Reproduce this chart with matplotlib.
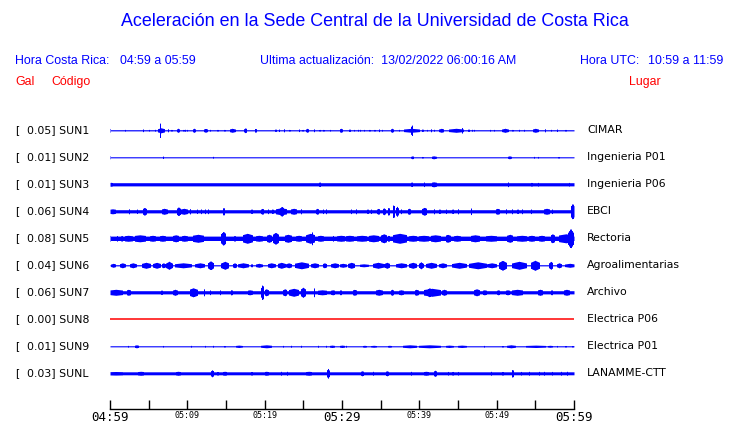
#!/usr/bin/env python3
"""Acceleration traces for the UCR Sede Central network, one hour window."""

import numpy as np
import matplotlib
matplotlib.use("Agg")
import matplotlib.pyplot as plt

W, H = 740, 423
BLUE = "#0000ff"
RED = "#ff0000"

codes = ["SUN1", "SUN2", "SUN3", "SUN4", "SUN5", "SUN6", "SUN7", "SUN8", "SUN9", "SUNL"]
peaks = ["0.05", "0.01", "0.01", "0.06", "0.08", "0.04", "0.06", "0.00", "0.01", "0.03"]
places = ["CIMAR", "Ingenieria P01", "Ingenieria P06", "EBCI", "Rectoria",
          "Agroalimentarias", "Archivo", "Electrica P06", "Electrica P01", "LANAMME-CTT"]

tick_minutes = list(range(0, 61, 5))
tick_labels = {0: "04:59", 10: "05:09", 20: "05:19", 30: "05:29",
               40: "05:39", 50: "05:49", 60: "05:59"}

# background half-amplitude of each trace (screen px)
base_amp = [0.6, 0.5, 1.6, 1.6, 2.2, 0.6, 1.6, 0.0, 0.5, 1.5]

# bursts: (start min, end min, half-amplitude px)
sun1 = [(0.0, 0.05, 2), (1.9, 1.9, 1), (4.3, 4.3, 1.5), (5.0, 5.0, 1), (5.8, 5.8, 1),
        (6.2, 7.0, 2.5), (6.45, 6.5, 7.5), (7.5, 7.5, 1.5), (7.95, 7.95, 1), (8.7, 8.9, 2),
        (9.5, 9.5, 1), (9.7, 9.7, 1), (10.0, 10.0, 1), (10.75, 10.96, 2), (12.2, 12.5, 2),
        (12.9, 12.9, 1), (13.9, 13.9, 1), (14.8, 14.8, 1), (15.5, 16.1, 2), (17.4, 17.6, 2.5),
        (18.7, 18.9, 2), (21.4, 21.4, 1.5), (21.9, 21.9, 1.5), (22.5, 22.5, 1.5), (23.2, 23.2, 1),
        (24.4, 24.4, 1.5), (24.9, 24.9, 1), (25.4, 25.6, 2), (26.4, 26.4, 1.5), (27.1, 27.1, 1),
        (27.6, 27.6, 1), (28.4, 28.4, 1), (29.7, 30.0, 2), (30.97, 30.97, 1.5), (31.6, 31.6, 1),
        (32.05, 32.05, 1), (32.35, 32.35, 1), (32.8, 32.8, 1), (33.55, 33.55, 1), (34.2, 34.2, 1),
        (34.75, 34.75, 1.5), (35.2, 35.2, 1), (36.35, 36.56, 2), (37.4, 37.4, 1), (38.07, 39.9, 2),
        (39.0, 39.0, 7.5), (40.0, 40.0, 1.5), (40.4, 40.4, 1.5), (40.95, 40.95, 1), (41.5, 41.5, 1.5),
        (41.9, 41.9, 1), (42.6, 43.1, 2), (43.9, 45.6, 2), (45.5, 45.5, 3), (46.36, 46.36, 1.5),
        (46.8, 46.8, 1), (47.1, 47.1, 1), (49.1, 49.1, 1), (49.7, 49.7, 1), (50.75, 51.4, 2),
        (52.04, 52.04, 1), (52.9, 52.9, 1), (53.55, 53.55, 1), (54.7, 55.3, 2), (56.25, 56.25, 1.5),
        (57.0, 57.0, 1), (57.85, 57.85, 1.5), (58.9, 58.9, 1)]
sun2 = [(0.0, 0.0, 1.5), (6.9, 6.9, 1.5), (13.3, 13.3, 1), (39.0, 39.2, 1.5), (40.4, 40.4, 1),
        (41.6, 42.1, 1.5), (51.5, 51.8, 1.5), (54.8, 54.8, 1), (55.3, 55.3, 1), (58.0, 58.0, 1)]
sun3 = [(0.0, 0.2, 2), (27.1, 27.1, 2.5), (39.0, 39.0, 2.5), (40.56, 40.56, 2.5), (41.6, 42.1, 2.5),
        (51.5, 51.5, 2.5), (54.5, 54.5, 2), (55.3, 55.3, 2), (59.4, 59.4, 2)]
sun4 = [(0.0, 0.65, 2.5), (2.45, 2.45, 2.5), (3.44, 3.44, 2.5), (4.3, 4.6, 4), (6.7, 7.3, 3),
        (8.7, 9.0, 4.5), (9.2, 9.9, 3), (10.3, 10.3, 3), (11.2, 11.2, 2.5), (11.8, 11.8, 2.5),
        (12.25, 12.25, 2.5), (12.7, 12.7, 2.5), (14.6, 14.75, 4), (18.3, 18.3, 2.5), (19.6, 19.8, 3),
        (20.4, 20.4, 2.5), (21.0, 21.0, 2.5), (21.5, 22.8, 3.5), (22.0, 22.4, 5), (23.4, 24.1, 3),
        (24.7, 24.7, 2.5), (26.7, 26.9, 3), (27.5, 27.5, 2.5), (27.95, 27.95, 2.5), (31.2, 31.2, 2.5),
        (31.8, 31.8, 2.5), (33.3, 33.3, 2.5), (33.8, 33.8, 2.5), (34.6, 34.8, 3), (35.3, 35.5, 3.5),
        (35.9, 36.1, 4), (36.6, 36.7, 7.5), (37.0, 37.2, 5), (37.6, 37.6, 2.5), (38.5, 38.8, 3),
        (40.4, 40.9, 4), (41.9, 41.9, 2.5), (42.6, 42.6, 2.5), (43.4, 43.4, 2.5), (44.3, 44.3, 2.5),
        (45.0, 45.0, 2.5), (46.7, 46.7, 3.5), (49.9, 50.3, 3), (51.2, 51.2, 2.5), (52.0, 52.0, 2.5),
        (52.7, 52.7, 2.5), (53.3, 53.3, 2.5), (54.4, 54.4, 2.5), (56.1, 56.8, 3), (57.2, 57.2, 2.5),
        (59.6, 60.0, 8)]
sun5 = [(0.0, 0.05, 3), (0.86, 0.86, 3), (1.5, 1.5, 3), (1.9, 2.8, 3), (3.2, 4.5, 3.5),
        (5.2, 5.8, 3), (6.45, 7.1, 3), (8.2, 8.8, 3.5), (9.3, 9.9, 3), (10.75, 12.0, 4),
        (14.4, 14.9, 7), (16.1, 16.1, 3), (17.2, 18.3, 5), (18.9, 19.6, 3), (20.3, 20.8, 4),
        (21.1, 21.7, 6), (22.6, 23.4, 4), (24.1, 24.7, 3), (25.4, 26.4, 5), (26.1, 26.1, 7),
        (26.9, 27.5, 3), (28.8, 28.8, 3), (29.4, 30.3, 3), (30.5, 31.4, 3), (32.0, 33.1, 3),
        (33.5, 34.6, 3.5), (35.1, 35.7, 4.5), (35.9, 36.1, 3), (36.6, 38.3, 5), (38.7, 39.6, 3),
        (40.0, 41.1, 3), (41.5, 42.6, 3.5), (43.4, 43.9, 4), (44.5, 45.2, 3), (46.7, 47.7, 3.5),
        (48.6, 49.9, 3), (51.4, 52.0, 4), (52.7, 53.8, 3), (54.2, 54.8, 3), (55.5, 56.1, 3),
        (57.0, 57.4, 4.5), (58.1, 59.8, 4.5), (59.3, 59.8, 10)]
sun6 = [(0.2, 0.65, 2), (1.3, 1.9, 2.5), (2.6, 3.3, 2.5), (4.1, 5.2, 3), (5.6, 6.45, 3),
        (6.7, 7.1, 2.5), (7.3, 7.95, 4), (8.4, 10.5, 2.5), (11.05, 12.2, 2.5), (12.7, 13.3, 4.5),
        (14.4, 15.3, 4), (15.9, 16.3, 2.5), (16.6, 17.8, 2.5), (18.3, 18.3, 2), (18.9, 19.6, 2),
        (20.4, 21.3, 2.5), (21.7, 22.6, 3), (22.8, 23.4, 2.5), (23.9, 25.6, 3.5), (26.0, 26.9, 2.5),
        (27.5, 27.95, 2.5), (28.6, 29.5, 2.5), (29.7, 30.5, 2), (30.8, 31.6, 3), (32.3, 33.3, 1.5),
        (34.0, 35.3, 3), (35.5, 36.1, 3), (37.0, 38.3, 2.5), (38.7, 39.6, 3), (40.0, 40.4, 3.5),
        (40.9, 42.15, 3), (42.6, 43.4, 2.5), (44.3, 46.0, 3), (46.5, 48.6, 3.5), (48.8, 49.9, 2.5),
        (50.3, 51.2, 5), (52.0, 53.8, 4), (54.4, 55.5, 5), (56.8, 57.2, 4), (57.85, 58.3, 2.5),
        (58.9, 60.0, 2)]
sun7 = [(0.0, 1.5, 3), (2.15, 2.6, 3), (6.66, 6.66, 2.5), (8.2, 8.6, 3), (10.3, 11.2, 4.5),
        (12.12, 12.12, 4), (12.9, 12.9, 2.5), (14.2, 14.2, 2.5), (15.7, 15.7, 3), (17.8, 18.3, 2.5),
        (19.6, 19.8, 8), (20.0, 20.4, 3.5), (22.4, 22.8, 3.5), (23.2, 24.3, 4), (24.7, 25.2, 5),
        (26.35, 26.35, 5), (26.9, 27.95, 2.5), (28.6, 29.0, 2.5), (29.7, 29.9, 2.5), (31.4, 31.8, 3),
        (34.4, 35.1, 3), (36.35, 36.56, 3), (37.4, 37.85, 2.5), (39.4, 39.8, 3), (40.65, 42.6, 4),
        (41.0, 41.6, 4.5), (43.0, 43.4, 3), (47.1, 47.7, 3.5), (48.2, 48.6, 2.5), (50.1, 50.3, 2.5),
        (51.2, 51.6, 2.5), (52.0, 53.3, 3), (55.3, 55.9, 3), (57.0, 57.2, 2.5), (58.7, 59.35, 3)]
sun8 = []
sun9 = [(2.36, 2.36, 1), (3.2, 3.65, 1.5), (6.9, 6.9, 1), (10.5, 10.5, 1), (12.25, 12.25, 1),
        (13.3, 13.3, 1), (14.8, 14.8, 1), (16.3, 17.0, 1.2), (19.6, 20.85, 1.5), (22.4, 22.4, 1),
        (23.4, 23.4, 1), (24.7, 24.7, 1), (26.9, 26.9, 1), (27.95, 27.95, 1), (28.4, 29.0, 1.2),
        (29.7, 30.3, 1.2), (30.5, 30.5, 1), (32.7, 33.1, 1), (33.8, 34.4, 1), (35.9, 36.35, 1),
        (37.9, 39.6, 1.5), (40.0, 42.6, 1.5), (43.4, 44.3, 1.2), (44.95, 46.0, 1.2), (48.4, 48.4, 1),
        (50.75, 50.75, 1), (51.4, 52.3, 1.5), (53.8, 56.3, 1.2), (56.6, 57.2, 1), (57.85, 57.85, 1),
        (58.9, 58.9, 1), (59.8, 59.8, 1)]
sunl = [(0.0, 1.5, 1.8), (3.65, 4.3, 2), (8.6, 9.0, 2), (13.1, 13.3, 3.5), (13.9, 13.9, 2),
        (14.6, 15.05, 2), (18.3, 18.3, 2), (20.0, 20.4, 2), (22.1, 22.1, 2), (22.9, 22.9, 2),
        (25.4, 26.0, 2), (28.1, 28.25, 5), (32.5, 32.7, 2.5), (34.0, 34.0, 2), (35.7, 35.9, 2.5),
        (38.9, 38.9, 2), (40.6, 41.1, 2), (41.9, 42.15, 3), (43.66, 43.66, 2), (44.3, 44.3, 2),
        (44.95, 44.95, 2), (49.25, 49.25, 2), (50.75, 50.75, 2), (52.04, 52.04, 5), (53.1, 53.1, 2),
        (54.2, 54.2, 2), (55.5, 55.5, 2), (56.1, 56.1, 2), (57.2, 57.2, 2), (58.3, 58.3, 2),
        (59.1, 59.1, 2)]
bursts = [sun1, sun2, sun3, sun4, sun5, sun6, sun7, sun8, sun9, sunl]

SPACING = 27  # px between traces


def envelope(t, base, events):
    """Half-amplitude of a trace at each sample: base level plus tapered bursts."""
    env = np.full_like(t, base)
    half = 60.0 / 464 * 0.6
    for t0, t1, a in events:
        lo, hi = t0 - half, t1 + half
        m = (t >= lo) & (t <= hi)
        mid, rad = (lo + hi) / 2, (hi - lo) / 2
        taper = 1 - 0.5 * np.abs(t[m] - mid) / rad
        env[m] = np.maximum(env[m], base + (a - base) * taper)
    return env


def fx(px):
    return px / W


def fy(py):
    return 1 - py / H


fig = plt.figure(figsize=(W / 100, H / 100), dpi=100)
fig.patch.set_facecolor("white")

# --- header ---
hdr = dict(family="Liberation Sans", color=BLUE, va="center")
fig.text(fx(375), fy(22), "Aceleración en la Sede Central de la Universidad de Costa Rica",
         ha="center", fontsize=12.9, **hdr)
fig.text(fx(15), fy(61), "Hora Costa Rica:", ha="left", fontsize=8.9, **hdr)
fig.text(fx(120), fy(61), "04:59 a 05:59", ha="left", fontsize=8.9, **hdr)
fig.text(fx(260), fy(61), "Ultima actualización:  13/02/2022 06:00:16 AM", ha="left", fontsize=8.9, **hdr)
fig.text(fx(580), fy(61), "Hora UTC:", ha="left", fontsize=8.9, **hdr)
fig.text(fx(723), fy(61), "10:59 a 11:59", ha="right", fontsize=8.9, **hdr)
red = dict(family="Liberation Sans", color=RED, va="center", fontsize=8.9)
fig.text(fx(15), fy(82), "Gal", ha="left", **red)
fig.text(fx(51), fy(82), "Código", ha="left", **red)
fig.text(fx(629), fy(82), "Lugar", ha="left", **red)

# --- traces ---
top_px, bot_px, y0_px = 115, 409, 130.3
ax = fig.add_axes([fx(110), fy(bot_px), (574 - 110) / W, (bot_px - top_px) / H])
ax.set_xlim(0, 60)
ax.set_ylim(-(bot_px - y0_px), y0_px - top_px)

t = np.linspace(0, 60, 465)
lab = dict(family="DejaVu Sans", fontsize=7.8, color="black", va="center")
for i, code in enumerate(codes):
    off = -SPACING * i
    if peaks[i] == "0.00":
        ax.plot([0, 60], [off, off], color=RED, lw=1.1)
    else:
        env = np.maximum(envelope(t, base_amp[i], bursts[i]), 0.55)
        ax.fill_between(t, off - env, off + env, step="mid", color=BLUE, lw=0,
                        antialiased=False)
    yy = fy(y0_px + SPACING * i)
    fig.text(fx(15), yy, "[", ha="left", **lab)
    fig.text(fx(27), yy, f"{peaks[i]}] {code}", ha="left", **lab)
    fig.text(fx(587), yy, places[i], ha="left", **lab)

for s in ["top", "left", "right"]:
    ax.spines[s].set_visible(False)
ax.spines["bottom"].set_linewidth(1.0)
ax.set_yticks([])
ax.set_xticks(tick_minutes)
ax.set_xticklabels([tick_labels.get(m, "") for m in tick_minutes])
ax.tick_params(axis="x", direction="in", length=6.5, width=1.0, pad=1.5)
for m, tl in zip(tick_minutes, ax.get_xticklabels()):
    tl.set_family("DejaVu Sans Mono")
    tl.set_fontsize(9 if m % 30 == 0 else 6)

fig.savefig("out.png", dpi=100)
